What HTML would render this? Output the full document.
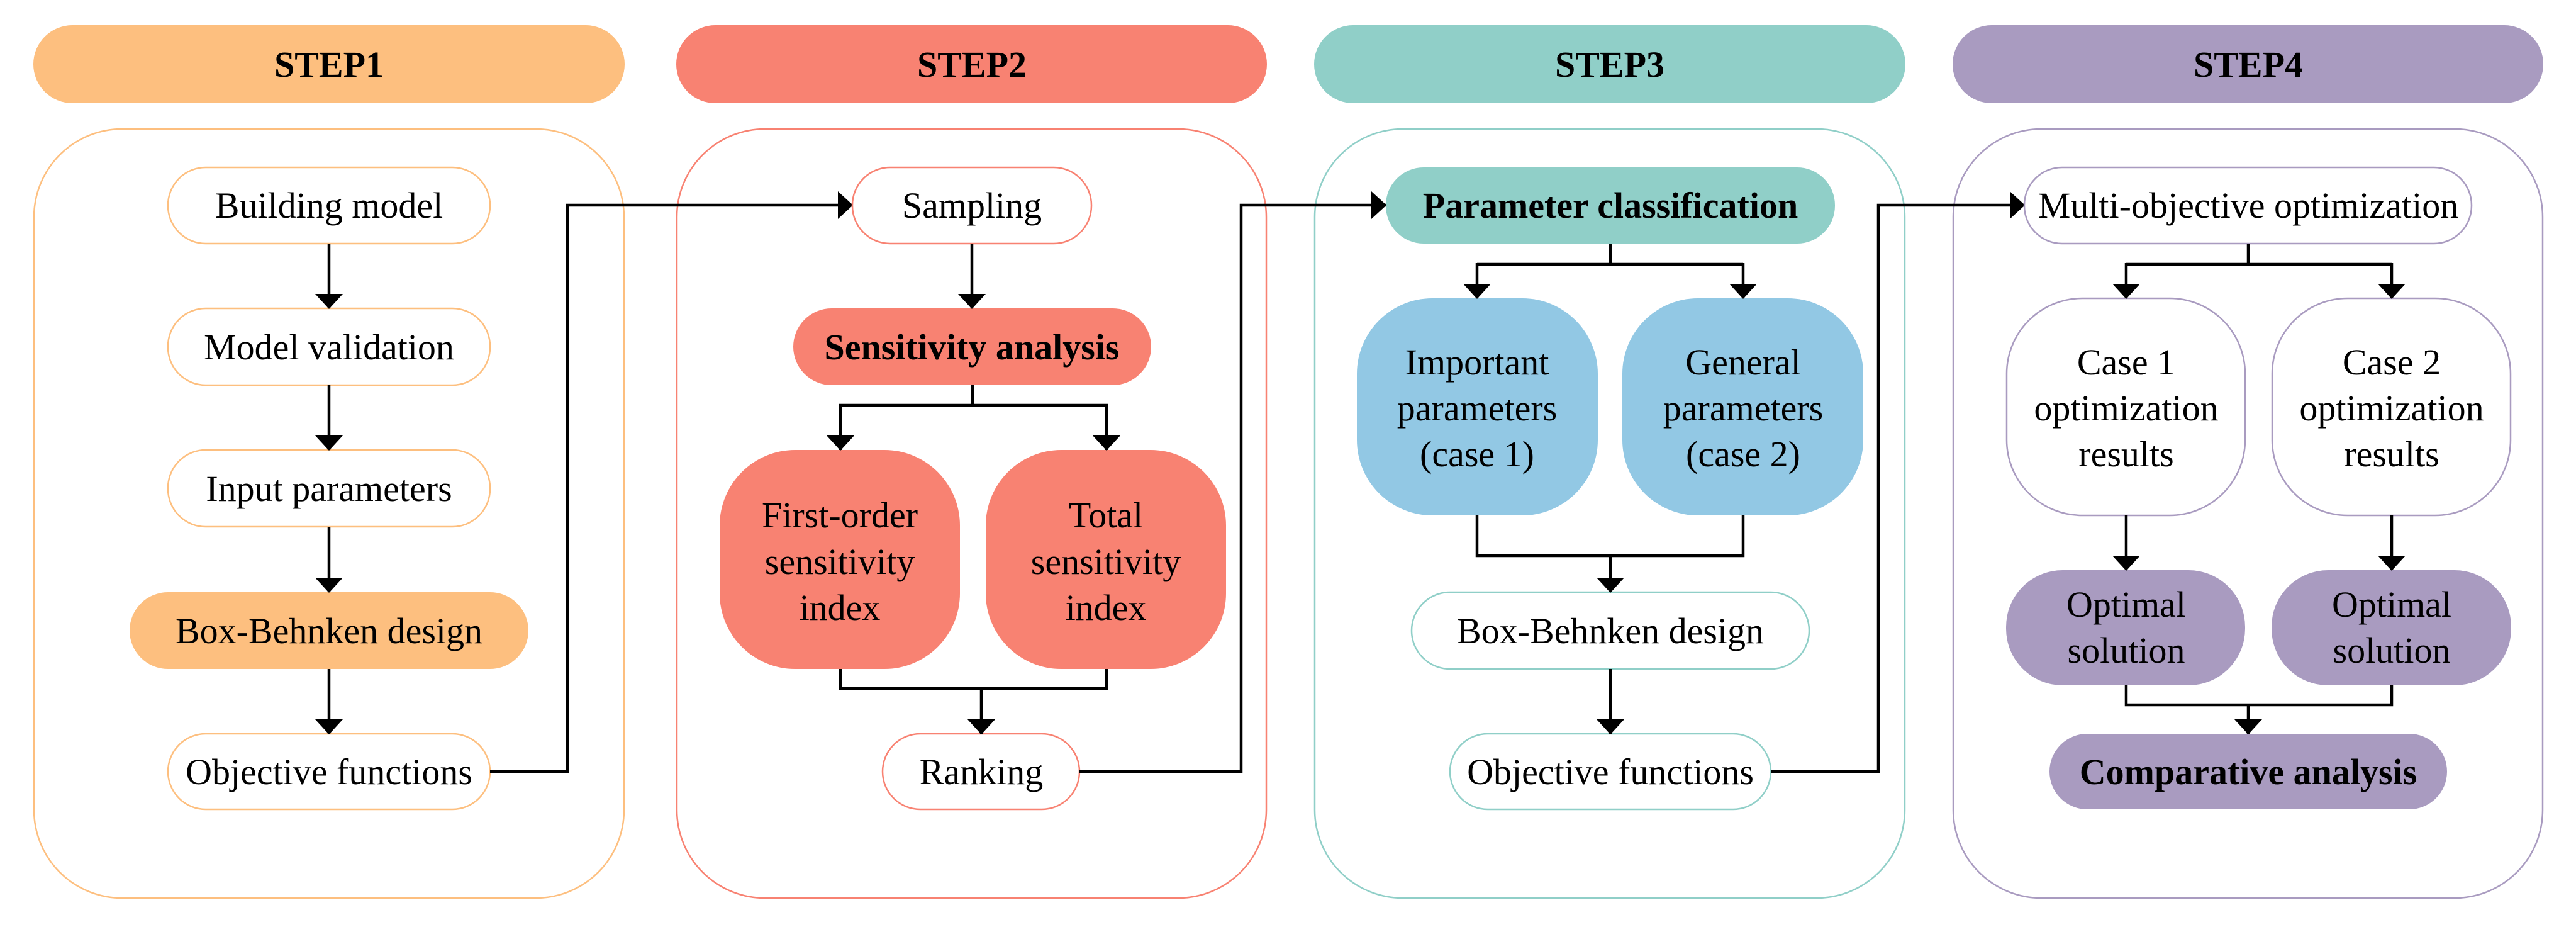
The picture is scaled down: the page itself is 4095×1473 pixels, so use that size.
<!DOCTYPE html>
<html><head><meta charset="utf-8"><style>
html,body{margin:0;padding:0;background:#fff;}
svg{display:block}
text{font-family:"Liberation Serif","Times New Roman",serif;font-size:58px;fill:#000;text-anchor:middle;}
.b{font-weight:bold;}
.l{stroke:#000;stroke-width:4.5;fill:none;}
</style></head><body>
<svg width="4095" height="1473" viewBox="0 0 4095 1473" xmlns="http://www.w3.org/2000/svg" font-family="Liberation Serif, serif">
<defs>
<marker id="a" markerUnits="userSpaceOnUse" markerWidth="26" markerHeight="46" refX="23" refY="22" orient="auto"><path d="M0,0 L24,22 L0,44 Z" fill="#000"/></marker>
</defs>
<rect x="53" y="40" width="940" height="124" rx="62" fill="#FDBF7F"/>
<rect x="1075" y="40" width="939" height="124" rx="62" fill="#F88272"/>
<rect x="2089" y="40" width="940" height="124" rx="62" fill="#90CFC8"/>
<rect x="3104" y="40" width="939" height="124" rx="62" fill="#A99BC0"/>
<text class="b" x="523" y="122">STEP1</text>
<text class="b" x="1545" y="122">STEP2</text>
<text class="b" x="2559" y="122">STEP3</text>
<text class="b" x="3574" y="122">STEP4</text>
<rect x="54" y="205" width="938" height="1222" rx="140" fill="none" stroke="#FDBF7F" stroke-width="2.5"/>
<rect x="1076" y="205" width="937" height="1222" rx="140" fill="none" stroke="#F88272" stroke-width="2.5"/>
<rect x="2090" y="205" width="938" height="1222" rx="140" fill="none" stroke="#90CFC8" stroke-width="2.5"/>
<rect x="3105" y="205" width="937" height="1222" rx="140" fill="none" stroke="#A99BC0" stroke-width="2.5"/>

<g fill="#fff" stroke="#FDBF7F" stroke-width="2.5">
<rect x="267" y="266" width="512" height="121" rx="60"/>
<rect x="267" y="490" width="512" height="122" rx="60"/>
<rect x="267" y="715" width="512" height="122" rx="60"/>
<rect x="267" y="1166" width="512" height="120" rx="60"/>
</g>
<rect x="206" y="941" width="634" height="122" rx="61" fill="#FDBF7F"/>
<text x="523" y="346">Building model</text>
<text x="523" y="571">Model validation</text>
<text x="523" y="796">Input parameters</text>
<text x="523" y="1022">Box-Behnken design</text>
<text x="523" y="1246">Objective functions</text>
<path class="l" d="M523,387 V490" marker-end="url(#a)"/>
<path class="l" d="M523,612 V715" marker-end="url(#a)"/>
<path class="l" d="M523,837 V941" marker-end="url(#a)"/>
<path class="l" d="M523,1063 V1166" marker-end="url(#a)"/>
<path class="l" d="M779,1226 H902 V326 H1355" marker-end="url(#a)"/>

<g fill="#fff" stroke="#F88272" stroke-width="2.5">
<rect x="1355" y="266" width="380" height="121" rx="60"/>
<rect x="1403" y="1166" width="313" height="120" rx="60"/>
</g>
<g fill="#F88272">
<rect x="1261" y="490" width="569" height="122" rx="61"/>
<rect x="1144" y="715" width="382" height="348" rx="120"/>
<rect x="1567" y="715" width="382" height="348" rx="120"/>
</g>
<text x="1545" y="346">Sampling</text>
<text class="b" x="1545" y="571">Sensitivity analysis</text>
<text x="1335" y="838">First-order</text>
<text x="1335" y="912">sensitivity</text>
<text x="1335" y="985">index</text>
<text x="1758" y="838">Total</text>
<text x="1758" y="912">sensitivity</text>
<text x="1758" y="985">index</text>
<text x="1560" y="1246">Ranking</text>
<path class="l" d="M1545,387 V490" marker-end="url(#a)"/>
<path class="l" d="M1546,612 V644 M1336,715 V644 H1759 V715"/>
<path class="l" d="M1336,670 V715" marker-end="url(#a)"/>
<path class="l" d="M1759,670 V715" marker-end="url(#a)"/>
<path class="l" d="M1336,1063 V1094 H1759 V1063 M1560,1094 V1166" marker-end="url(#a)"/>
<path class="l" d="M1716,1226 H1973 V326 H2203" marker-end="url(#a)"/>

<rect x="2203" y="266" width="714" height="121" rx="60" fill="#90CFC8"/>
<g fill="#92C8E4">
<rect x="2157" y="474" width="383" height="345" rx="120"/>
<rect x="2579" y="474" width="383" height="345" rx="120"/>
</g>
<g fill="#fff" stroke="#90CFC8" stroke-width="2.5">
<rect x="2244" y="941" width="632" height="122" rx="61"/>
<rect x="2305" y="1166" width="510" height="120" rx="60"/>
</g>
<text class="b" x="2560" y="346">Parameter classification</text>
<text x="2348" y="595">Important</text>
<text x="2348" y="668">parameters</text>
<text x="2348" y="741">(case 1)</text>
<text x="2771" y="595">General</text>
<text x="2771" y="668">parameters</text>
<text x="2771" y="741">(case 2)</text>
<text x="2560" y="1022">Box-Behnken design</text>
<text x="2560" y="1246">Objective functions</text>
<path class="l" d="M2560,387 V420 H2348 M2560,420 H2771"/>
<path class="l" d="M2348,418 V474" marker-end="url(#a)"/>
<path class="l" d="M2771,418 V474" marker-end="url(#a)"/>
<path class="l" d="M2348,819 V883 H2771 V819 M2560,883 V941" marker-end="url(#a)"/>
<path class="l" d="M2560,1063 V1166" marker-end="url(#a)"/>
<path class="l" d="M2815,1226 H2986 V326 H3218" marker-end="url(#a)"/>

<g fill="#fff" stroke="#A99BC0" stroke-width="2.5">
<rect x="3218" y="266" width="711" height="121" rx="60"/>
<rect x="3190" y="474" width="379" height="345" rx="120"/>
<rect x="3612" y="474" width="379" height="345" rx="120"/>
</g>
<g fill="#A99BC0">
<rect x="3189" y="906" width="380" height="183" rx="90"/>
<rect x="3611" y="906" width="381" height="183" rx="90"/>
<rect x="3258" y="1166" width="632" height="120" rx="60"/>
</g>
<text x="3574" y="346">Multi-objective optimization</text>
<text x="3380" y="595">Case 1</text>
<text x="3380" y="668">optimization</text>
<text x="3380" y="741">results</text>
<text x="3802" y="595">Case 2</text>
<text x="3802" y="668">optimization</text>
<text x="3802" y="741">results</text>
<text x="3380" y="980">Optimal</text>
<text x="3380" y="1053">solution</text>
<text x="3802" y="980">Optimal</text>
<text x="3802" y="1053">solution</text>
<text class="b" x="3574" y="1246">Comparative analysis</text>
<path class="l" d="M3574,387 V420 H3380 M3574,420 H3802"/>
<path class="l" d="M3380,418 V474" marker-end="url(#a)"/>
<path class="l" d="M3802,418 V474" marker-end="url(#a)"/>
<path class="l" d="M3380,819 V906" marker-end="url(#a)"/>
<path class="l" d="M3802,819 V906" marker-end="url(#a)"/>
<path class="l" d="M3380,1089 V1120 H3802 V1089 M3574,1120 V1166" marker-end="url(#a)"/>
</svg>
</body></html>
